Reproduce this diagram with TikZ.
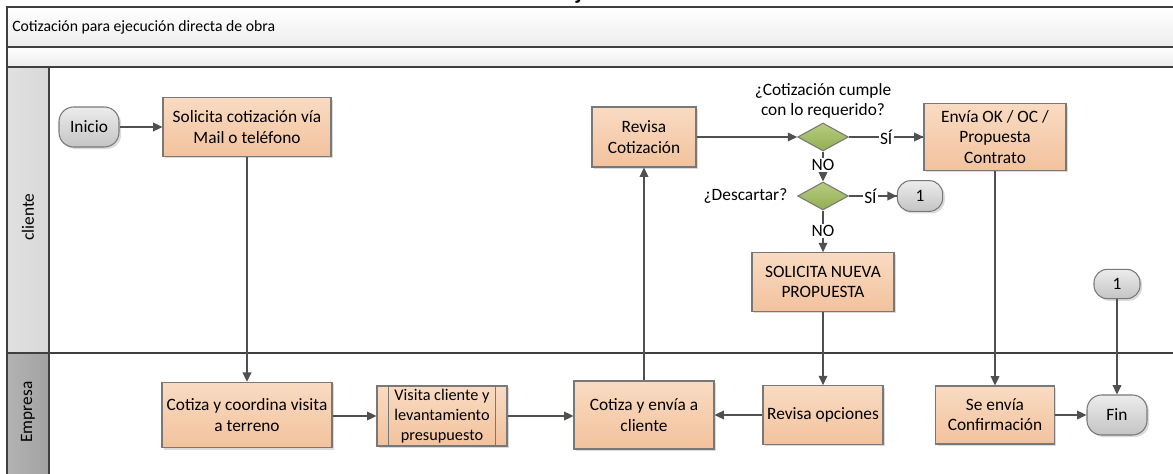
\documentclass[tikz,border=0pt]{standalone}
\usepackage{fontspec}
\setmainfont{Carlito}
\usetikzlibrary{arrows.meta,shapes.geometric,shadows}

\definecolor{frame}{RGB}{64,64,64}
\definecolor{linec}{RGB}{80,80,80}
\definecolor{bordc}{RGB}{120,120,120}
\definecolor{orTop}{RGB}{249,219,194}
\definecolor{orBot}{RGB}{242,194,157}
\definecolor{grTop}{RGB}{182,204,128}
\definecolor{grBot}{RGB}{146,174,82}
\definecolor{pTop}{RGB}{236,236,236}
\definecolor{pBot}{RGB}{196,196,196}
\definecolor{laneA}{RGB}{216,216,216}
\definecolor{laneB}{RGB}{162,162,162}

\tikzset{
  txt/.style={font=\fontsize{13}{15.2}\selectfont, align=center},
  shad/.style={drop shadow={shadow xshift=1.6pt, shadow yshift=-1.6pt, fill=black, opacity=0.14}},
  proc/.style={txt, shad, rectangle, draw=bordc, line width=0.8pt,
    top color=orTop, bottom color=orBot, inner sep=0pt},
  pill/.style={txt, shad, rectangle, draw=bordc, line width=0.8pt,
    top color=pTop, bottom color=pBot, rounded corners=11pt, inner sep=0pt},
  decision/.style={diamond, draw=bordc, line width=0.8pt, top color=grTop,
    bottom color=grBot, minimum width=38pt, minimum height=21pt, inner sep=0pt},
  flow/.style={draw=linec, line width=1pt, -{Triangle[length=7pt,width=6.5pt]}},
  plain/.style={draw=linec, line width=1pt},
  lbl/.style={txt, fill=white, inner sep=1pt},
  lanetxt/.style={font=\fontsize{13}{15}\selectfont, rotate=90},
  border/.style={draw=frame, line width=0.9pt}
}

\begin{document}
\begin{tikzpicture}[x=0.75pt, y=-0.75pt]
  \useasboundingbox (0,0) rectangle (1173,474);

  % heading glyph, mostly above the page edge
  \node[anchor=base, font=\fontsize{17}{17}\bfseries\selectfont, inner sep=0pt] (head) at (579,-0.5) {j};

  % pool heading bands
  \path[top color=white, bottom color=black!7] (7,7) rectangle (1180,47);
  \path[top color=white, bottom color=black!8] (7,47) rectangle (1180,67);
  \node[anchor=west, font=\fontsize{11.8}{13}\selectfont, inner sep=0pt] (pool) at (12,27) {Cotización para ejecución directa de obra};

  % lane headers
  \path[left color=black!12, right color=laneA] (7,67) rectangle (49,353);
  \path[left color=black!30, right color=laneB] (7,353) rectangle (49,480);
  \node[lanetxt] (laneC) at (28,217) {cliente};
  \node[lanetxt] (laneE) at (28,412) {Empresa};

  % frame lines
  \draw[border] (1180,7) -- (7,7) -- (7,480);
  \draw[border] (7,47) -- (1180,47);
  \draw[border] (7,67) -- (1180,67);
  \draw[border] (49,67) -- (49,480);
  \draw[border] (7,353) -- (1180,353);

  % cliente lane
  \node[pill, minimum width=45pt, minimum height=30pt] (ini) at (89,127) {Inicio};
  \node[proc, minimum width=126pt, minimum height=44pt] (sol) at (247,127) {Solicita cotización vía\\Mail o teléfono};
  \node[proc, minimum width=78pt, minimum height=45pt] (rev) at (644,137) {Revisa\\Cotización};
  \node[decision] (d1) at (823,137) {};
  \node[txt] (q1) at (823,101) {¿Cotización cumple\\con lo requerido?};
  \node[proc, minimum width=106.5pt, minimum height=50pt] (env) at (995,137) {Envía OK / OC /\\Propuesta\\Contrato};
  \node[decision] (d2) at (823,196) {};
  \node[txt, anchor=east] (q2) at (792,196) {¿Descartar?};
  \node[pill, minimum width=34pt, minimum height=23pt, rounded corners=10pt] (c1) at (920,196) {1};
  \node[proc, minimum width=106.5pt, minimum height=44pt] (snp) at (823,282) {SOLICITA NUEVA\\PROPUESTA};
  \node[pill, minimum width=34.5pt, minimum height=22pt, rounded corners=10pt] (c1b) at (1117,284) {1};

  % Empresa lane
  \node[proc, minimum width=127.5pt, minimum height=49pt] (coord) at (247,415) {Cotiza y coordina visita\\a terreno};
  \node[proc, font=\fontsize{12.2}{15.2}\selectfont, minimum width=97.5pt, minimum height=45pt] (vis) at (442,416) {Visita cliente y\\levantamiento\\presupuesto};
  \draw[bordc, line width=0.8pt] ([xshift=9pt]vis.north west) -- ([xshift=9pt]vis.south west)
        ([xshift=-9pt]vis.north east) -- ([xshift=-9pt]vis.south east);
  \node[proc, minimum width=105pt, minimum height=51pt] (cenv) at (644,415) {Cotiza y envía a\\cliente};
  \node[proc, minimum width=90pt, minimum height=44pt] (ropc) at (823,415) {Revisa opciones};
  \node[proc, minimum width=89pt, minimum height=43.5pt] (senv) at (995,415) {Se envía\\Confirmación};
  \node[pill, minimum width=45pt, minimum height=30pt] (fin) at (1117,415) {Fin};

  % connectors
  \draw[flow] (ini) -- (sol);
  \draw[flow] (sol.south) -- (coord.north);
  \draw[flow] (coord.east |- vis.west) -- (vis.west);
  \draw[flow] (vis) -- (cenv.west |- vis.east);
  \draw[flow] (ropc) -- (cenv);
  \draw[flow] (cenv.north) -- (rev.south);
  \draw[flow] (rev) -- (d1);
  \draw[plain] (d1) -- node[lbl, pos=0.5] (si1) {SÍ} (env);
  \draw[flow] (si1) -- (env);
  \draw[flow] (d1) -- node[lbl, pos=0.45] (no1) {NO} (d2);
  \draw[plain] (d2) -- node[lbl, pos=0.45] (si2) {SÍ} (c1);
  \draw[flow] (si2) -- (c1);
  \draw[flow] (d2) -- node[lbl, pos=0.5] (no2) {NO} (snp);
  \draw[flow] (snp) -- (ropc);
  \draw[flow] (env) -- (senv);
  \draw[flow] (senv) -- (fin);
  \draw[flow] (c1b) -- (fin);
\end{tikzpicture}
\end{document}
